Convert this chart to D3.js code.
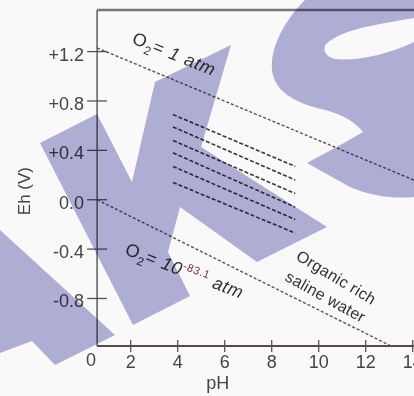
<!DOCTYPE html>
<html><head><meta charset="utf-8">
<script src="https://cdn.jsdelivr.net/npm/d3@7"></script>
<style>html,body{margin:0;padding:0;background:#faf8f8;} svg{display:block;}</style>
</head><body><svg id="c" width="414" height="396"></svg>
<script>
// ---- data ----
const xTicks = [2, 4, 6, 8, 10, 12, 14];
const xZeroLabel = "0";
const yTicks = [1.2, 0.8, 0.4, 0.0, -0.4, -0.8];
const yTickLabels = ["+1.2", "+0.8", "+0.4", "0.0", "-0.4", "-0.8"];
const axisCrossPH = 0.57;          // pH where the Eh axis is drawn
const upperLinePH = [0.57, 14.1];  // O2 = 1 atm boundary
const upperLineEh = [1.23, 0.155];
const lowerLinePH = [0.57, 13.08]; // O2 = 10^-83.1 atm boundary
const lowerLineEh = [0.0, -1.185];
const organicPH = [3.8, 9.0];      // organic rich saline water field
const organicStartEh = [0.69, 0.59, 0.48, 0.38, 0.27, 0.14];
const organicEndEh = [0.27, 0.16, 0.05, -0.06, -0.16, -0.27];
const annotations = [
  {key: "o2high", pH: 2.01, Eh: 1.27, angle: 22},
  {key: "o2low", pH: 1.71, Eh: -0.44, angle: 21},
  {key: "org1", pH: 8.99, Eh: -0.48, angle: 31, text: "Organic rich"},
  {key: "org2", pH: 8.52, Eh: -0.65, angle: 29, text: "saline water"}
];

// ---- scales ----
const svg = d3.select("#c");
const x = d3.scaleLinear().domain([0, 14]).range([83.7, 412.7]);
const y = d3.scaleLinear().domain([-1.185, 1.537]).range([346, 10]);
const font = "'Liberation Sans', Arial, sans-serif";
const ax = x(axisCrossPH);

// frame
svg.append("line").attr("x1", ax).attr("x2", 414).attr("y1", y(1.537)).attr("y2", y(1.537))
  .attr("stroke", "#777").attr("stroke-width", 2.5);
svg.append("line").attr("x1", ax).attr("x2", ax).attr("y1", y(1.537)).attr("y2", y(-1.185))
  .attr("stroke", "#666").attr("stroke-width", 1.6);
svg.append("line").attr("x1", ax).attr("x2", 414).attr("y1", y(-1.185)).attr("y2", y(-1.185))
  .attr("stroke", "#5e4646").attr("stroke-width", 1.8);

// y ticks
const yt = svg.append("g");
yTicks.forEach((v, i) => {
  yt.append("line").attr("x1", ax - 10).attr("x2", ax + 10).attr("y1", y(v)).attr("y2", y(v))
    .attr("stroke", "#555").attr("stroke-width", 1.3);
  yt.append("text").attr("x", ax - 13).attr("y", y(v) + 9).attr("text-anchor", "end")
    .attr("font-family", font).attr("font-size", 18).attr("fill", "#444").text(yTickLabels[i]);
});
// x ticks
const xt = svg.append("g");
xTicks.forEach(v => {
  xt.append("line").attr("x1", x(v)).attr("x2", x(v)).attr("y1", y(-1.185) - 6).attr("y2", y(-1.185) + 6)
    .attr("stroke", "#555").attr("stroke-width", 1.3);
  xt.append("text").attr("x", x(v)).attr("y", y(-1.185) + 22).attr("text-anchor", "middle")
    .attr("font-family", font).attr("font-size", 18).attr("fill", "#444").text(v);
});
xt.append("text").attr("x", ax - 6).attr("y", y(-1.185) + 20).attr("text-anchor", "middle")
  .attr("font-family", font).attr("font-size", 18).attr("fill", "#444").text(xZeroLabel);

// axis titles
svg.append("text").attr("x", x(5.7)).attr("y", y(-1.185) + 43).attr("text-anchor", "middle")
  .attr("font-family", font).attr("font-size", 18).attr("fill", "#444").text("pH");
svg.append("text").attr("transform", `translate(30,${y(0.07)}) rotate(-90)`).attr("text-anchor", "middle")
  .attr("font-family", font).attr("font-size", 17).attr("fill", "#444").text("Eh (V)");

// boundary lines
const line = d3.line().x(d => x(d[0])).y(d => y(d[1]));
svg.append("path").attr("d", line(d3.zip(upperLinePH, upperLineEh)))
  .attr("fill", "none").attr("stroke", "#555").attr("stroke-width", 1.4).attr("stroke-dasharray", "3,2");
svg.append("path").attr("d", line(d3.zip(lowerLinePH, lowerLineEh)))
  .attr("fill", "none").attr("stroke", "#555").attr("stroke-width", 1.4).attr("stroke-dasharray", "3,2");
organicStartEh.forEach((s, i) => {
  svg.append("path").attr("d", line([[organicPH[0], s], [organicPH[1], organicEndEh[i]]]))
    .attr("fill", "none").attr("stroke", "#3a3a3a").attr("stroke-width", 1.6).attr("stroke-dasharray", "4,2");
});

// annotations
annotations.forEach(a => {
  const t = svg.append("text").attr("transform", `translate(${x(a.pH)},${y(a.Eh)}) rotate(${a.angle})`)
    .attr("font-family", font).attr("fill", "#333");
  if (a.key === "o2high") {
    t.attr("font-size", 18).attr("letter-spacing", 0.8);
    t.append("tspan").text("O");
    t.append("tspan").attr("font-size", 12).attr("dy", 5).text("2");
    t.append("tspan").attr("dy", -5).text("= ");
    t.append("tspan").attr("font-style", "italic").text("1 atm");
  } else if (a.key === "o2low") {
    t.attr("font-size", 18).attr("letter-spacing", 0.6);
    t.append("tspan").text("O");
    t.append("tspan").attr("font-size", 12).attr("dy", 5).text("2");
    t.append("tspan").attr("dy", -5).text("= ");
    t.append("tspan").attr("font-style", "italic").text("10");
    t.append("tspan").attr("font-size", 11).attr("dy", -7).attr("fill", "#6a3030").text("-83.1");
    t.append("tspan").attr("dy", 7).attr("font-style", "italic").text(" atm");
  } else {
    t.attr("font-size", 16).attr("letter-spacing", 0.3).text(a.text);
  }
});

// watermark overlay (decorative, not data)
const wm = svg.append("g").style("mix-blend-mode", "multiply").attr("fill", "#b2b2da");
wm.append("path").attr("d", "M40,143 L97,114 L132,182 L155,82 L231,45 L201,147 L327,227 L257,262 L180,207 L168,252 L190,296 L133,325 Z");
wm.append("path").attr("d", "M0,230 L115,335 L55,365 L32,341 L0,353 Z");
wm.append("path").attr("d", "M305,0 L414,0 L414,18 C400,20 385,23 370,26 C350,30 335,36 326,44 C322,50 326,57 335,59 C355,61 385,56 414,42 L414,197 C395,199 370,196 350,187 L307,163 C325,153 345,143 363,132 C352,118 335,112 317,108 C295,102 277,92 273,75 C268,55 280,25 305,0 Z");
</script></body></html>
